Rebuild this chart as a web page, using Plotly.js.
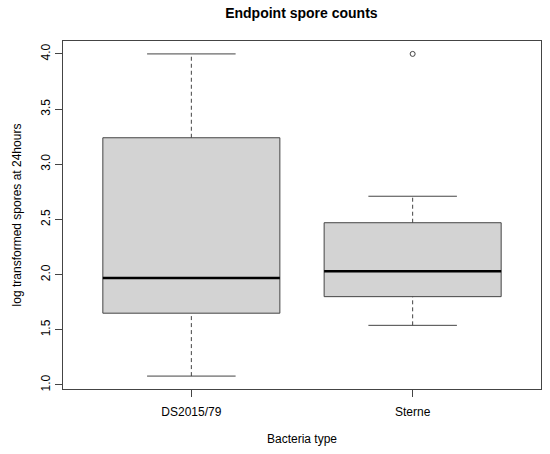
<!DOCTYPE html>
<html>
<head>
<meta charset="utf-8">
<script src="https://cdn.plot.ly/plotly-3.0.1.min.js"></script>
<style>
  html, body { margin: 0; padding: 0; background: #fff; }
  #chart { width: 550px; height: 454px; }
</style>
</head>
<body>
<div id="chart"></div>
<script>
// boxplot stats
const groups = ['DS2015/79', 'Sterne'];
const lowerWhisker = [1.08, 1.54];
const q1 = [1.65, 1.80];
const median = [1.97, 2.03];
const q3 = [3.24, 2.47];
const upperWhisker = [4.00, 2.71];
const outlierGroup = [2];
const outlierValue = [4.00];

const LINE = '#444';
const shapes = [];
const traces = [];
groups.forEach((g, i) => {
  const x = i + 1;
  // box
  shapes.push({ type: 'rect', xref: 'x', yref: 'y', x0: x - 0.4, x1: x + 0.4, y0: q1[i], y1: q3[i],
    fillcolor: '#d3d3d3', line: { color: LINE, width: 1 }, layer: 'above' });
  // median
  shapes.push({ type: 'line', xref: 'x', yref: 'y', x0: x - 0.4, x1: x + 0.4, y0: median[i], y1: median[i],
    line: { color: '#000', width: 2.5 } });
  // whiskers (dashed)
  shapes.push({ type: 'line', xref: 'x', yref: 'y', x0: x, x1: x, y0: q3[i], y1: upperWhisker[i],
    line: { color: LINE, width: 1, dash: '4px,3px' } });
  shapes.push({ type: 'line', xref: 'x', yref: 'y', x0: x, x1: x, y0: lowerWhisker[i], y1: q1[i],
    line: { color: LINE, width: 1, dash: '4px,3px' } });
  // staples
  shapes.push({ type: 'line', xref: 'x', yref: 'y', x0: x - 0.2, x1: x + 0.2, y0: upperWhisker[i], y1: upperWhisker[i],
    line: { color: LINE, width: 1 } });
  shapes.push({ type: 'line', xref: 'x', yref: 'y', x0: x - 0.2, x1: x + 0.2, y0: lowerWhisker[i], y1: lowerWhisker[i],
    line: { color: LINE, width: 1 } });
});

traces.push({
  x: outlierGroup, y: outlierValue, type: 'scatter', mode: 'markers',
  marker: { symbol: 'circle-open', size: 5, color: LINE, line: { width: 1 } },
  hoverinfo: 'skip', showlegend: false,
});

const FONT = 'Liberation Sans, Arial, sans-serif';
const layout = {
  width: 550, height: 454,
  margin: { l: 63, r: 9, t: 41, b: 65 },
  paper_bgcolor: '#fff', plot_bgcolor: '#fff',
  font: { family: FONT, size: 12, color: '#000' },
  showlegend: false,
  title: { text: '<b>Endpoint spore counts</b>', font: { size: 14, family: FONT },
    x: 0.548, xanchor: 'center', y: 1 - 13 / 454, yanchor: 'middle', yref: 'container' },
  xaxis: {
    range: [0.42, 2.58], tickvals: groups.map((g, i) => i + 1), ticktext: groups,
    ticks: 'outside', ticklen: 7, tickcolor: LINE, showgrid: false, zeroline: false,
    showline: true, linecolor: LINE, mirror: true, tickfont: { size: 12 }, ticklabelstandoff: 5,
    title: { text: 'Bacteria type', font: { size: 12 }, standoff: 16 },
  },
  yaxis: {
    range: [0.963, 4.117], tickvals: [1, 1.5, 2, 2.5, 3, 3.5, 4],
    ticktext: ['1.0', '1.5', '2.0', '2.5', '3.0', '3.5', '4.0'],
    tickangle: -90, ticks: 'outside', ticklen: 7, tickcolor: LINE, showgrid: false, zeroline: false,
    showline: true, linecolor: LINE, mirror: true, tickfont: { size: 12 },
    title: { text: 'log transformed spores at 24hours', font: { size: 12 }, standoff: 15 },
  },
  shapes: shapes,
};

Plotly.newPlot('chart', traces, layout, { displayModeBar: false, staticPlot: true });
</script>
</body>
</html>
